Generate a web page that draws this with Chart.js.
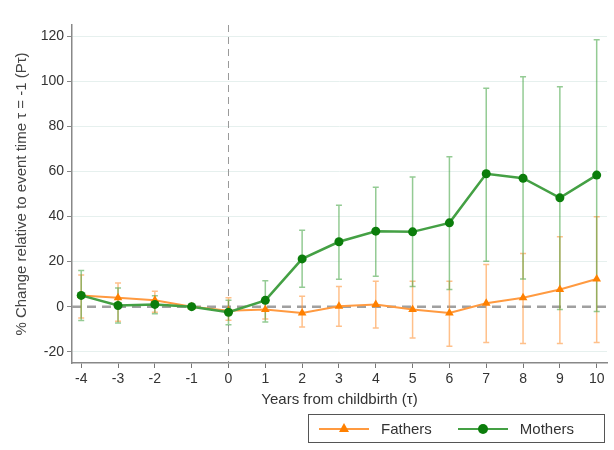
<!DOCTYPE html>
<html>
<head>
<meta charset="utf-8">
<script src="https://cdn.jsdelivr.net/npm/chart.js@4"></script>
<style>
  html, body { margin: 0; padding: 0; background: #fff; }
  #wrap { position: relative; width: 614px; height: 450px; }
  #legend {
    position: absolute; left: 308px; top: 414px; width: 295px; height: 27px;
    border: 1.5px solid #555; font: 15px "Liberation Sans", Arial, sans-serif; color: #333;
    display: flex; align-items: center;
  }
  .item { display: flex; align-items: center; margin-left: 10px; }
  .sample { position: relative; width: 50px; height: 12px; margin-right: 12px; }
  .sample .ln { position: absolute; left: 0; right: 0; top: 5px; height: 2px; }
  .tri { position: absolute; left: 20px; top: 0; width: 0; height: 0;
    border-left: 5px solid transparent; border-right: 5px solid transparent; border-bottom: 9px solid #ff8000; }
  .dot { position: absolute; left: 20px; top: 1px; width: 10px; height: 10px; border-radius: 50%; background: #0b7d0b; }
</style>
</head>
<body>
<div id="wrap">
  <canvas id="chart" width="614" height="450"></canvas>
  <div id="legend">
    <div class="item"><div class="sample"><div class="ln" style="background:#ff9a40"></div><div class="tri"></div></div>Fathers</div>
    <div class="item" style="margin-left:26px"><div class="sample"><div class="ln" style="background:#44a044"></div><div class="dot"></div></div>Mothers</div>
  </div>
</div>
<script>
const years = [-4, -3, -2, -1, 0, 1, 2, 3, 4, 5, 6, 7, 8, 9, 10];
const yTicks = [-20, 0, 20, 40, 60, 80, 100, 120];

const fathers    = [5, 4, 2.8, 0, -1.8, -1.3, -2.8, 0.2, 1, -1.3, -2.8, 1.5, 4, 7.6, 12.3];
const fathersLow = [-5, -6.5, -2.5, 0, -6, -5.5, -9, -8.7, -9.5, -13.9, -17.6, -15.9, -16.4, -16.4, -15.9];
const fathersHigh = [14, 10.5, 6.8, 0, 4, 3, 4.6, 9, 11.3, 11.3, 11.3, 18.7, 23.6, 31, 39.9];

const mothers    = [5, 0.5, 1, 0, -2.5, 2.8, 21.2, 28.8, 33.5, 33.2, 37.2, 59, 57, 48.3, 58.4];
const mothersLow = [-6.1, -7.3, -3.1, 0, -8, -6.8, 8.6, 12.2, 13.5, 9, 7.6, 20.1, 12.3, -1.3, -2.1];
const mothersHigh = [16.1, 8.3, 4.9, 0, 2.8, 11.5, 33.9, 45, 53, 57.5, 66.5, 96.9, 102, 97.6, 118.4];

const fontFamily = '"Liberation Sans", Arial, sans-serif';

function toPoints(vals) {
  return years.map((x, i) => ({ x: x, y: vals[i] }));
}

// error bars and reference lines, drawn through the chart scales
const errorBars = {
  id: 'errorBars',
  beforeDatasetsDraw(chart) {
    const ctx = chart.ctx;
    const xs = chart.scales.x;
    const ys = chart.scales.y;
    const area = chart.chartArea;

    ctx.save();
    // dashed zero line
    ctx.strokeStyle = '#a0a0a0';
    ctx.lineWidth = 2.5;
    ctx.setLineDash([9, 6]);
    ctx.beginPath();
    ctx.moveTo(area.left, ys.getPixelForValue(0));
    ctx.lineTo(area.right, ys.getPixelForValue(0));
    ctx.stroke();
    // vertical line at childbirth
    ctx.lineWidth = 1;
    ctx.strokeStyle = '#999';
    ctx.setLineDash([7, 5]);
    ctx.beginPath();
    ctx.moveTo(xs.getPixelForValue(0), area.top);
    ctx.lineTo(xs.getPixelForValue(0), area.bottom);
    ctx.stroke();
    ctx.setLineDash([]);

    const sets = [
      { low: fathersLow, high: fathersHigh, color: 'rgba(255,150,60,0.6)' },
      { low: mothersLow, high: mothersHigh, color: 'rgba(60,160,60,0.55)' }
    ];
    sets.forEach(s => {
      ctx.strokeStyle = s.color;
      ctx.lineWidth = 1.5;
      years.forEach((yr, i) => {
        if (s.low[i] === s.high[i]) return;
        const px = xs.getPixelForValue(yr);
        const lo = ys.getPixelForValue(s.low[i]);
        const hi = ys.getPixelForValue(s.high[i]);
        ctx.beginPath();
        ctx.moveTo(px, lo); ctx.lineTo(px, hi);
        ctx.moveTo(px - 3, lo); ctx.lineTo(px + 3, lo);
        ctx.moveTo(px - 3, hi); ctx.lineTo(px + 3, hi);
        ctx.stroke();
      });
    });
    ctx.restore();
  }
};

new Chart(document.getElementById('chart'), {
  type: 'line',
  data: {
    datasets: [
      {
        label: 'Fathers',
        data: toPoints(fathers),
        borderColor: '#ff9a40',
        backgroundColor: '#ff8000',
        borderWidth: 2,
        pointStyle: 'triangle',
        pointRadius: 5,
        pointBorderWidth: 0,
        order: 1
      },
      {
        label: 'Mothers',
        data: toPoints(mothers),
        borderColor: '#44a044',
        backgroundColor: '#0b7d0b',
        borderWidth: 2.5,
        pointStyle: 'circle',
        pointRadius: 4.5,
        pointBorderWidth: 0,
        order: 0
      }
    ]
  },
  options: {
    responsive: false,
    animation: false,
    layout: { padding: { top: 25, right: 7, bottom: 37, left: 0 } },
    plugins: {
      legend: { display: false },
      tooltip: { enabled: false }
    },
    scales: {
      x: {
        type: 'linear',
        min: -4.25,
        max: 10.28,
        afterBuildTicks: s => { s.ticks = years.map(v => ({ value: v })); },
        afterFit: s => { s.height = 50; },
        grid: { drawOnChartArea: false, tickColor: '#777', tickLength: 5 },
        border: { color: '#888', width: 1.5 },
        ticks: { color: '#333', font: { family: fontFamily, size: 14 }, padding: 3 },
        title: { display: true, text: 'Years from childbirth (τ)', color: '#333', font: { family: fontFamily, size: 15 }, padding: { top: 0 } }
      },
      y: {
        min: -25,
        max: 125,
        afterBuildTicks: s => { s.ticks = yTicks.map(v => ({ value: v })); },
        afterFit: s => { s.width = 72; },
        grid: {
          color: ctx => ctx.tick && ctx.tick.value === 0 ? 'rgba(0,0,0,0)' : '#e6f0ee',
          tickColor: '#888',
          tickLength: 5
        },
        border: { color: '#888', width: 1.5 },
        ticks: { color: '#333', font: { family: fontFamily, size: 14 }, padding: 3 },
        title: { display: true, text: '% Change relative to event time τ = -1 (Pτ)', color: '#444', font: { family: fontFamily, size: 15 }, padding: { top: 13, bottom: 0 } }
      }
    }
  },
  plugins: [errorBars]
});
</script>
</body>
</html>
